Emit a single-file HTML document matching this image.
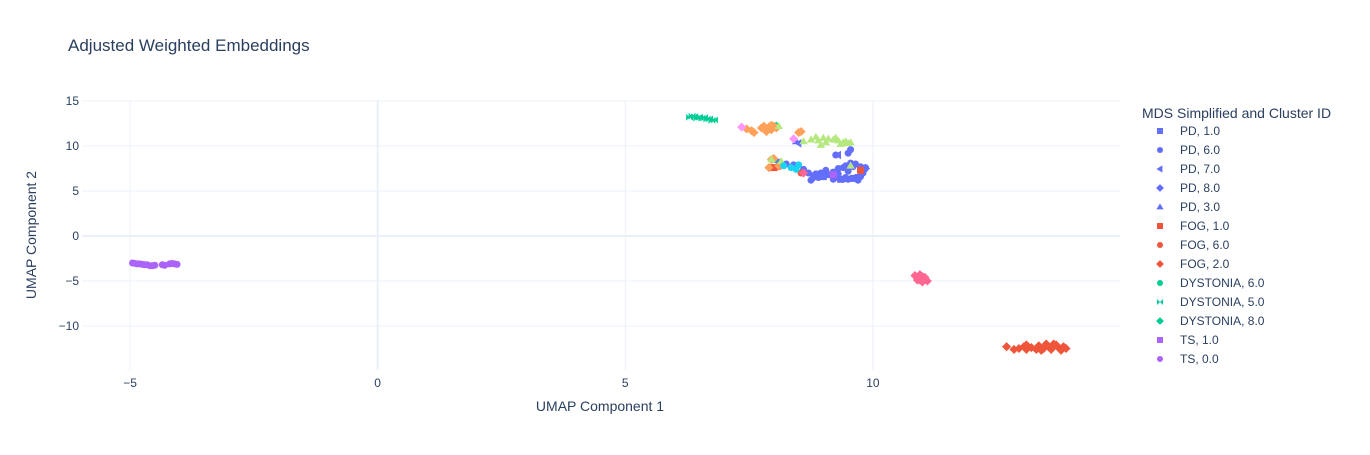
<!DOCTYPE html>
<html><head><meta charset="utf-8"><style>
body{margin:0;background:#fff;}
svg text{font-family:"Liberation Sans",Arial,sans-serif;fill:#2a3f5f;}
</style></head><body>
<svg id="chart" width="1370" height="450" xmlns="http://www.w3.org/2000/svg">
<rect width="1370" height="450" fill="#fff"/>
<text x="68" y="51" font-size="17">Adjusted Weighted Embeddings</text>
<g id="grid"></g>
<g id="marks"></g>
<text x="600" y="411" font-size="14" text-anchor="middle">UMAP Component 1</text>
<text transform="translate(36,235) rotate(-90)" font-size="14" text-anchor="middle">UMAP Component 2</text>
<text x="1142" y="118" font-size="14">MDS Simplified and Cluster ID</text>
<g id="legend"></g>
</svg>
<script>
const xTicks=[-5,0,5,10];
const yTicks=[15,10,5,0,-5,-10];
const seriesNames=["PD, 1.0","PD, 6.0","PD, 7.0","PD, 8.0","PD, 3.0","FOG, 1.0","FOG, 6.0","FOG, 2.0","DYSTONIA, 6.0","DYSTONIA, 5.0","DYSTONIA, 8.0","TS, 1.0","TS, 0.0","extra-orange","extra-green","extra-cyan","extra-pink","extra-magenta"];
const seriesX=[
[9.0,9.6,9.35,9.7],
[8.1,8.25,8.4,8.6,8.7,8.8,8.9,9.0,9.1,9.2,9.3,9.4,9.5,9.6,9.7,9.8,9.85,9.3,9.45,9.55,9.65,9.75,8.95,9.05,9.4,9.5,9.6,9.3,9.25,8.75,9.55,9.5,8.85,9.7,9.2,9.45,9.75,8.8],
[9.3,8.5],
[9.8,9.85],
[8.45],
[9.75,8.0],
[8.1,8.55],
[12.7,12.85,12.95,13.05,13.1,13.2,13.3,13.35,13.45,13.5,13.55,13.6,13.7,13.75,13.8,13.85,13.9,13.1,13.4,13.65],
[8.0],
[6.3,6.4,6.5,6.55,6.6,6.7,6.8,6.35,6.45,6.65,6.75],
[8.05],
[9.2],
[-4.95,-4.9,-4.85,-4.8,-4.75,-4.7,-4.65,-4.6,-4.55,-4.5,-4.35,-4.3,-4.2,-4.15,-4.1,-4.05],
[7.45,7.55,7.6,7.75,7.8,7.85,7.9,7.95,8.0,8.05,7.85,7.95,8.5,8.55,7.95,8.0,8.1,7.9],
[8.6,8.75,8.85,8.9,9.0,9.05,9.1,9.2,9.3,9.35,9.4,9.45,9.5,9.55,8.95,9.25,7.95,8.15,8.1,9.55],
[8.2,8.35,8.5,8.45],
[10.85,10.9,10.95,11.0,11.05,11.1,10.95,11.0,11.05,10.9,8.6],
[7.35,8.4]
];
const seriesY=[
[6.6,6.4,6.3,6.5],
[8.2,8.0,7.9,7.4,7.0,6.7,6.5,6.6,6.8,7.1,6.5,6.3,6.3,6.4,6.3,7.0,7.6,7.5,7.8,8.1,8.0,7.7,7.0,7.3,7.6,7.2,7.7,6.9,9.0,6.2,9.6,9.2,6.9,6.2,6.3,6.5,6.6,6.5],
[9.0,10.3],
[7.2,7.5],
[10.5],
[7.3,7.6],
[7.7,7.0],
[-12.3,-12.6,-12.5,-12.3,-12.1,-12.4,-12.6,-12.2,-12.5,-12.0,-12.3,-12.6,-12.1,-12.4,-12.7,-12.3,-12.5,-12.6,-12.7,-12.0],
[8.5],
[13.2,13.25,13.2,13.1,13.15,13.0,12.9,13.3,13.1,13.0,12.85],
[12.2],
[6.8],
[-3.0,-3.05,-3.1,-3.1,-3.15,-3.2,-3.2,-3.3,-3.3,-3.25,-3.2,-3.25,-3.1,-3.05,-3.1,-3.15],
[11.9,11.7,11.5,12.0,12.2,11.9,12.1,11.8,12.2,12.0,11.6,12.3,11.5,11.6,8.5,8.6,7.8,7.6],
[10.5,10.7,11.0,10.6,10.9,10.4,10.8,10.7,10.6,10.2,10.4,10.5,10.3,10.4,10.1,10.9,8.5,8.3,12.2,7.8],
[7.8,7.6,7.9,7.4],
[-4.4,-4.7,-4.9,-4.5,-4.8,-5.0,-4.3,-5.1,-4.6,-4.9,7.0],
[12.1,10.8]
];
const seriesColors=["#636efa","#636efa","#636efa","#636efa","#636efa","#EF553B","#EF553B","#EF553B","#00cc96","#00cc96","#00cc96","#ab63fa","#ab63fa","#FFA15A","#B6E880","#19d3f3","#FF6692","#FF97FF"];
const seriesSymbols=["square","circle","triangle-left","diamond","triangle-up","square","circle","diamond","circle","bowtie","diamond","square","circle","diamond","triangle-up","circle","diamond","diamond"];
const legendCount=13;

const L=82,R=1120,T=100,B=370;
const xMin=-5.97,xMax=14.99,yMin=-14.89,yMax=15.11;
const sx=v=>L+(v-xMin)/(xMax-xMin)*(R-L);
const sy=v=>B-(v-yMin)/(yMax-yMin)*(B-T);
const NS="http://www.w3.org/2000/svg";
function mk(tag,attrs,parent){const e=document.createElementNS(NS,tag);for(const k in attrs)e.setAttribute(k,attrs[k]);parent.appendChild(e);return e;}
const grid=document.getElementById('grid');
xTicks.forEach(t=>{
  const l=mk('line',{x1:sx(t),x2:sx(t),y1:T,y2:B,stroke:'#EBF0F8','stroke-width':t===0?2:1},grid);
  
  
  const tx=mk('text',{x:sx(t),y:B+17,'font-size':12,'text-anchor':'middle'},grid);
  tx.textContent=t<0?'\u2212'+Math.abs(t):t;
  
  
});
yTicks.forEach(t=>{
  const l=mk('line',{x1:L,x2:R,y1:sy(t),y2:sy(t),stroke:'#EBF0F8','stroke-width':t===0?2:1},grid);
  
  
  const tx=mk('text',{x:L-3,y:sy(t)+4,'font-size':12,'text-anchor':'end'},grid);
  tx.textContent=t<0?'\u2212'+Math.abs(t):t;
  
  
});
function sym(g,s,x,y,r,c){
  let d;
  if(s==='square')d=`M${x-r},${y-r}h${2*r}v${2*r}h${-2*r}z`;
  else if(s==='circle')return mk('circle',{cx:x,cy:y,r:r,fill:c},g);
  else if(s==='diamond')d=`M${x},${y-r*1.3}L${x+r*1.3},${y}L${x},${y+r*1.3}L${x-r*1.3},${y}z`;
  else if(s==='triangle-up')d=`M${x},${y-r*1.2}L${x+r*1.2},${y+r*0.8}L${x-r*1.2},${y+r*0.8}z`;
  else if(s==='triangle-left')d=`M${x-r*1.2},${y}L${x+r*0.8},${y-r*1.2}L${x+r*0.8},${y+r*1.2}z`;
  else d=`M${x-r},${y-r}L${x+r},${y+r}V${y-r}L${x-r},${y+r}z`;
  return mk('path',{d:d,fill:c},g);
}
const marks=document.getElementById('marks');
seriesX.forEach((xs,i)=>{
  const g=mk('g',{},marks);
  
  
  xs.forEach((xv,j)=>{
    const p=sym(g,seriesSymbols[i],sx(xv),sy(seriesY[i][j]),3.5,seriesColors[i]);
    
    
  });
});
const leg=document.getElementById('legend');
for(let i=0;i<legendCount;i++){
  const g=mk('g',{},leg);
  
  
  const y=131+i*19;
  sym(g,seriesSymbols[i],1160,y,3,seriesColors[i]);
  const t=mk('text',{x:1180,y:y+4,'font-size':12},g);
  t.textContent=seriesNames[i];
}
</script>
</body></html>
